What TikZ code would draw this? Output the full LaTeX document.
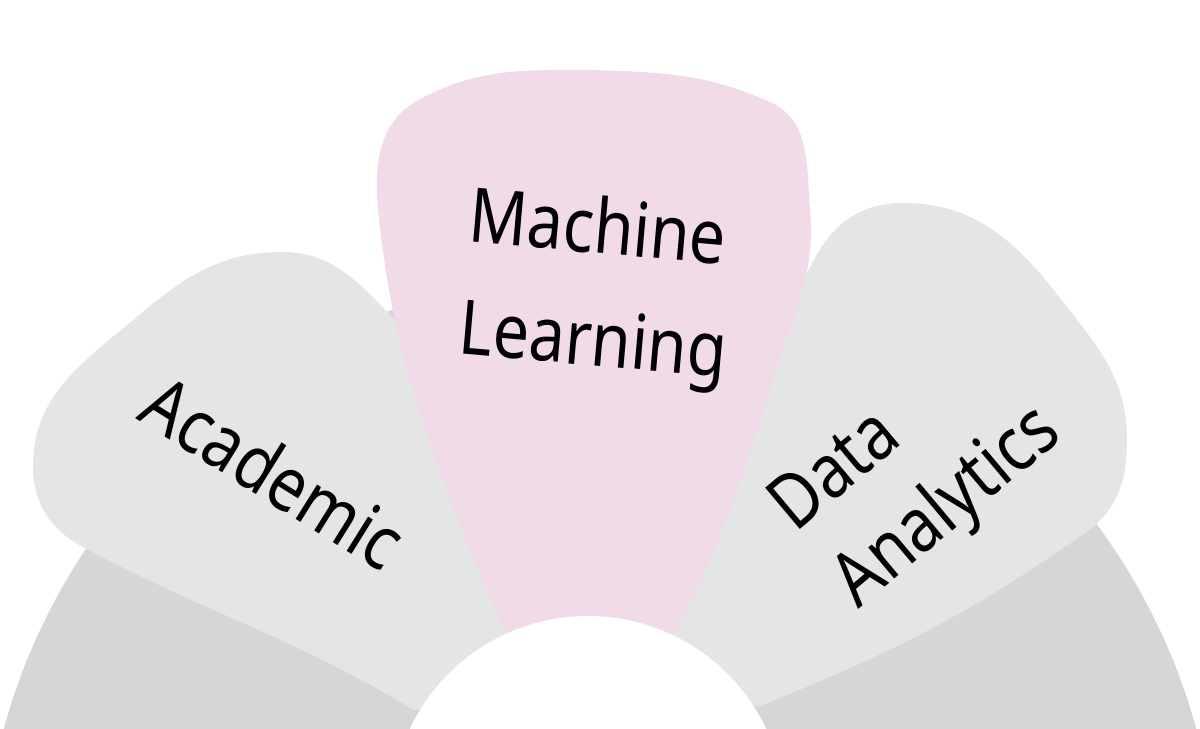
\documentclass[tikz,border=0pt]{standalone}
\usepackage{fontspec}
\newfontfamily\handfont[FakeStretch=0.85]{Noto Sans}
\definecolor{RingGray}{RGB}{215, 213, 214}
\definecolor{PetalGray}{RGB}{228, 230, 229}
\definecolor{PetalPink}{RGB}{242, 219, 232}
\tikzset{
  petaltext/.style={font=\handfont\fontsize{43}{#1}\selectfont, align=left, text=black}
}

\begin{document}
\begin{tikzpicture}[x=0.02cm, y=0.02cm]
    \useasboundingbox (0,0) rectangle (1200,728);
    \clip (0,0) rectangle (1200,728);

    % Outer ring
    \fill[RingGray] (600,-164) circle (618);

    % Left petal
    \fill[PetalGray] (414,18) to[out=149,in=-28] (83,181) to[out=152,in=-90] (33,262)
      to[out=90,in=-140] (133,408) to[out=40,in=180] (282,476) to[out=0,in=138] (412,392)
      to[out=-42,in=100] (480,200) to[out=-80,in=90] (540,28) -- cycle;

    % Right petal
    \fill[PetalGray] (760,22) to[out=22,in=-145] (1085,195) to[out=35,in=-90] (1127,288)
      to[out=90,in=-52] (1060,430) to[out=128,in=0] (903,525) to[out=180,in=62] (815,470)
      to[out=-118,in=75] (720,248) to[out=-105,in=100] (660,78) -- (700,28) -- cycle;

    % Middle petal
    \fill[PetalPink] (503,101) to[out=114,in=-70] (443,248) to[out=110,in=-83] (380,500)
      to[out=97,in=-150] (418,628) to[out=28,in=180] (593,658) to[out=-2,in=156] (770,626)
      to[out=-24,in=95] (810,520) to[out=-85,in=73] (773,348) to[out=-107,in=63] (678,101)
      to[out=-117,in=0] (590,30) to[out=180,in=-66] (503,101) -- cycle;

    % Inner hole
    \fill[white] (588,-85) circle (197);

    % Labels
    \node[petaltext=64, rotate=-5] (machine) at (598,438) {Machine\\Learning};
    \node[petaltext=64, rotate=-32] (academic) at (274,256) {Academic};
    \node[petaltext=56, rotate=40] (data) at (918,256) {Data\\Analytics};
\end{tikzpicture}
\end{document}
